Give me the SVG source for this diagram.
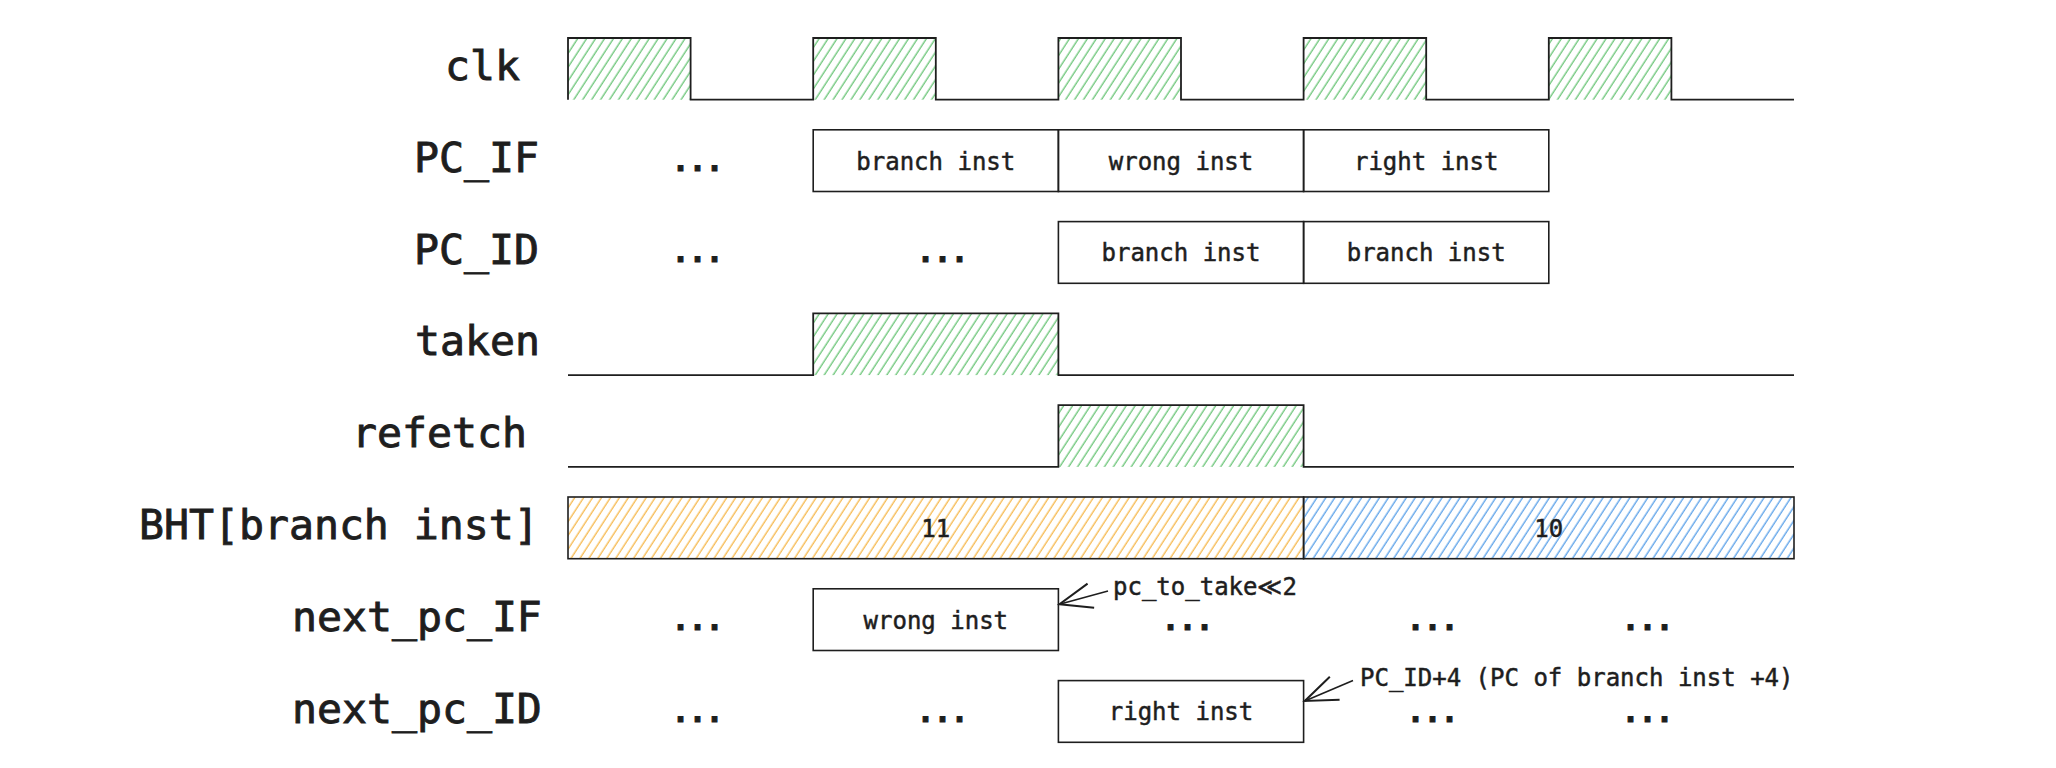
<svg xmlns="http://www.w3.org/2000/svg" width="2056" height="768" viewBox="0 0 2056 768">
<style>
.lbl{font-family:"DejaVu Sans Mono","Liberation Mono",monospace;font-size:41.5px;fill:#1e1e1e;stroke:#1e1e1e;stroke-width:0.9}
.txt{font-family:"DejaVu Sans Mono","Liberation Mono",monospace;font-size:24px;fill:#1e1e1e;stroke:#1e1e1e;stroke-width:0.5;text-anchor:middle}
.ann{font-family:"DejaVu Sans Mono","Liberation Mono",monospace;font-size:24px;fill:#1e1e1e;stroke:#1e1e1e;stroke-width:0.5}
.dots{font-family:"DejaVu Sans Mono","Liberation Mono",monospace;font-size:30px;font-weight:bold;letter-spacing:-1px;fill:#1e1e1e;stroke:#1e1e1e;stroke-width:1;text-anchor:middle}
.box{fill:none;stroke:#1e1e1e;stroke-width:1.6}
.wave{fill:none;stroke:#1e1e1e;stroke-width:1.8}
.arr{fill:none;stroke:#1e1e1e;stroke-width:1.6;marker-end:url(#open)}
</style>
<defs>
<pattern id="hg" patternUnits="userSpaceOnUse" width="7.5" height="20" patternTransform="rotate(33)">
<line x1="3" y1="0" x2="3" y2="20" stroke="#5cbf6a" stroke-width="1.2"/>
</pattern>
<pattern id="ho" patternUnits="userSpaceOnUse" width="7.5" height="20" patternTransform="rotate(33)">
<line x1="3" y1="0" x2="3" y2="20" stroke="#f5b13a" stroke-width="1.2"/>
</pattern>
<pattern id="hb" patternUnits="userSpaceOnUse" width="7.5" height="20" patternTransform="rotate(33)">
<line x1="3" y1="0" x2="3" y2="20" stroke="#4a97e6" stroke-width="1.2"/>
</pattern>
<marker id="open" markerUnits="userSpaceOnUse" markerWidth="40" markerHeight="40" refX="0" refY="0" viewBox="-30 -15 32 30" orient="auto">
<path d="M-26,-10 L0,0 L-26,10" fill="none" stroke="#1e1e1e" stroke-width="1.6"/>
</marker>
</defs>
<rect width="2056" height="768" fill="#ffffff"/>

<g id="labels">
<text class="lbl" x="445" y="80">clk</text>
<text class="lbl" x="414" y="171.8">PC_IF</text>
<text class="lbl" x="414" y="263.6">PC_ID</text>
<text class="lbl" x="415" y="355.4">taken</text>
<text class="lbl" x="352" y="447.2">refetch</text>
<text class="lbl" x="139" y="539">BHT[branch inst]</text>
<text class="lbl" x="292" y="630.8">next_pc_IF</text>
<text class="lbl" x="292" y="722.6">next_pc_ID</text>
</g>

<g id="clk">
<rect x="568" y="38" width="122.6" height="61.7" fill="url(#hg)"/>
<rect x="813.2" y="38" width="122.6" height="61.7" fill="url(#hg)"/>
<rect x="1058.4" y="38" width="122.6" height="61.7" fill="url(#hg)"/>
<rect x="1303.6" y="38" width="122.6" height="61.7" fill="url(#hg)"/>
<rect x="1548.8" y="38" width="122.6" height="61.7" fill="url(#hg)"/>
<path class="wave" d="M568,99.7 V38 H690.6 V99.7 H813.2 V38 H935.8 V99.7 H1058.4 V38 H1181 V99.7 H1303.6 V38 H1426.2 V99.7 H1548.8 V38 H1671.4 V99.7 H1794"/>
</g>

<g id="pc_if">
<text class="dots" x="697" y="170.5">...</text>
<rect class="box" x="813.2" y="129.8" width="245.2" height="61.7"/>
<text class="txt" x="935.8" y="169.6">branch inst</text>
<rect class="box" x="1058.4" y="129.8" width="245.2" height="61.7"/>
<text class="txt" x="1181" y="169.6">wrong inst</text>
<rect class="box" x="1303.6" y="129.8" width="245.2" height="61.7"/>
<text class="txt" x="1426.2" y="169.6">right inst</text>
</g>

<g id="pc_id">
<text class="dots" x="697" y="262.3">...</text>
<text class="dots" x="942" y="262.3">...</text>
<rect class="box" x="1058.4" y="221.6" width="245.2" height="61.7"/>
<text class="txt" x="1181" y="261.4">branch inst</text>
<rect class="box" x="1303.6" y="221.6" width="245.2" height="61.7"/>
<text class="txt" x="1426.2" y="261.4">branch inst</text>
</g>

<g id="taken">
<rect x="813.2" y="313.4" width="245.2" height="61.7" fill="url(#hg)"/>
<path class="wave" d="M568,375.1 H813.2 V313.4 H1058.4 V375.1 H1794"/>
</g>

<g id="refetch">
<rect x="1058.4" y="405.2" width="245.2" height="61.7" fill="url(#hg)"/>
<path class="wave" d="M568,466.9 H1058.4 V405.2 H1303.6 V466.9 H1794"/>
</g>

<g id="bht">
<rect x="568" y="497" width="735.6" height="61.7" fill="url(#ho)"/>
<rect class="box" x="568" y="497" width="735.6" height="61.7"/>
<text class="txt" x="935.8" y="536.8">11</text>
<rect x="1303.6" y="497" width="490.4" height="61.7" fill="url(#hb)"/>
<rect class="box" x="1303.6" y="497" width="490.4" height="61.7"/>
<text class="txt" x="1548.8" y="536.8">10</text>
</g>

<g id="next_pc_if">
<text class="dots" x="697" y="630">...</text>
<rect class="box" x="813.2" y="588.8" width="245.2" height="61.7"/>
<text class="txt" x="935.8" y="628.6">wrong inst</text>
<text class="dots" x="1187" y="630">...</text>
<text class="dots" x="1432" y="630">...</text>
<text class="dots" x="1647" y="630">...</text>
<text class="ann" x="1113" y="595">pc_to_take≪2</text>
</g>

<g id="next_pc_id">
<text class="dots" x="697" y="721.5">...</text>
<text class="dots" x="942" y="721.5">...</text>
<rect class="box" x="1058.4" y="680.6" width="245.2" height="61.7"/>
<text class="txt" x="1181" y="720.4">right inst</text>
<text class="dots" x="1432" y="721.5">...</text>
<text class="dots" x="1647" y="721.5">...</text>
<text class="ann" x="1360" y="686">PC_ID+4 (PC of branch inst +4)</text>
</g>

<g id="connectors">
<path class="arr" d="M1108,591 L1059.5,604.2"/>
<path class="arr" d="M1353,680.5 L1304.8,701"/>
</g>
</svg>
